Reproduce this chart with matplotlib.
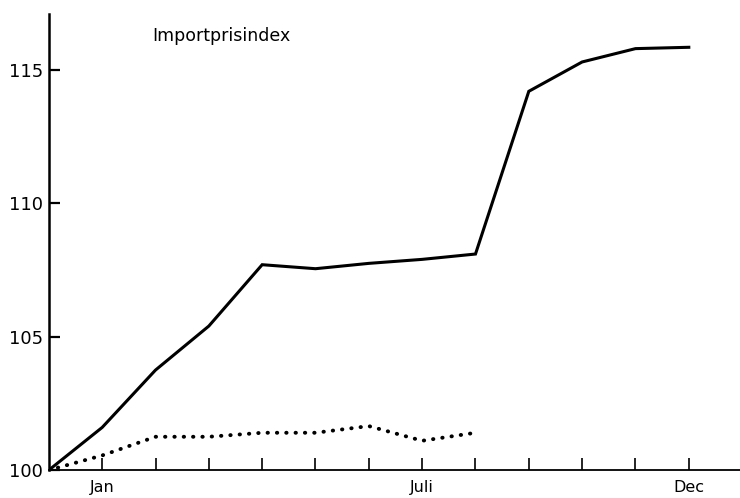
import matplotlib
matplotlib.use("Agg")
import matplotlib.pyplot as plt

# maanedsindeks (0 = udgangspunkt, 1 = Jan ... 12 = Dec)
months_solid = [0, 1, 2, 3, 4, 5, 6, 7, 8, 9, 10, 11, 12]
import_index = [100.0, 101.6, 103.75, 105.4, 107.7, 107.55, 107.75, 107.9, 108.1,
                114.2, 115.3, 115.8, 115.85]

months_dotted = [0, 1, 2, 3, 4, 5, 6, 7, 8]
other_index = [100.0, 100.55, 101.25, 101.25, 101.4, 101.4, 101.65, 101.1, 101.4]

month_ticks = [1, 2, 3, 4, 5, 6, 7, 8, 9, 10, 11, 12]
month_labels = ["Jan", "", "", "", "", "", "Juli", "", "", "", "", "Dec"]
y_ticks = [100, 105, 110, 115]

plt.rcParams["font.family"] = ["DejaVu Sans"]

fig = plt.figure(figsize=(7.4, 4.98), dpi=100)
ax = fig.add_axes([0.066, 0.056, 0.934, 0.916])

ax.plot(months_solid, import_index, color="black", lw=2.2, solid_joinstyle="miter")
ax.plot(months_dotted, other_index, color="black", lw=2.8,
        linestyle=(0, (0.1, 2.3)), dash_capstyle="round")

ax.set_xlim(0, 12.96)
ax.set_ylim(100, 117.1)

ax.set_xticks(month_ticks)
ax.set_xticklabels(month_labels, fontsize=11.5)
ax.set_yticks(y_ticks)
ax.set_yticklabels([str(v) for v in y_ticks], fontsize=13)

ax.tick_params(axis="x", direction="in", length=9, width=1.2, pad=7)
ax.tick_params(axis="y", direction="in", length=8, width=1.6, pad=4)

for side in ("top", "right"):
    ax.spines[side].set_visible(False)
ax.spines["left"].set_linewidth(1.8)
ax.spines["bottom"].set_linewidth(1.3)

ax.text(0.149, 0.94, "Importprisindex", transform=ax.transAxes, fontsize=12.5)

fig.savefig("out.png", dpi=100)
